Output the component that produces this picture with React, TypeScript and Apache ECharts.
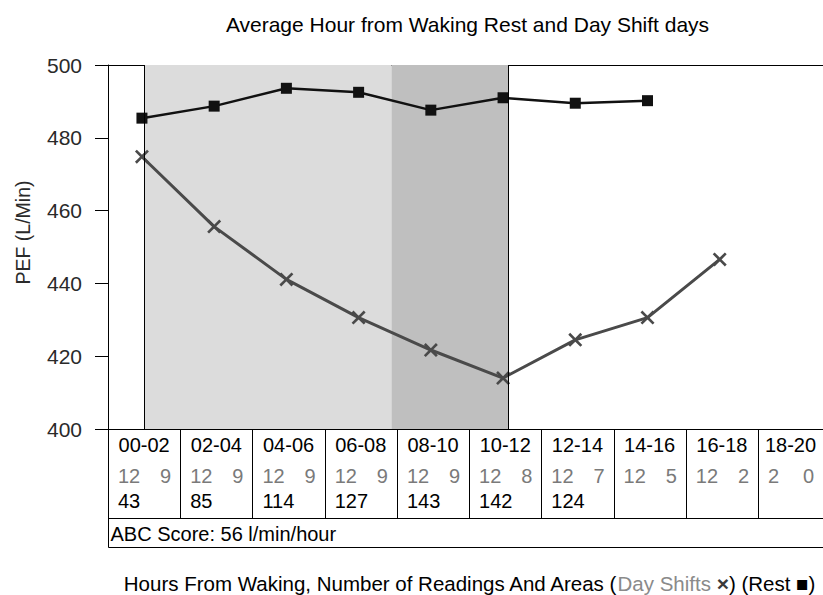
import React, { useEffect, useRef } from "react";
import * as echarts from "echarts";

const categories = ["00-02", "02-04", "04-06", "06-08", "08-10", "10-12", "12-14", "14-16", "16-18", "18-20"];
const dayShiftCounts = ["12", "12", "12", "12", "12", "12", "12", "12", "12", "2"];
const restCounts = ["9", "9", "9", "9", "9", "8", "7", "5", "2", "0"];
const areaValues = ["43", "85", "114", "127", "143", "142", "124", "", "", ""];
const dayShiftPEF = [474.8, 455.6, 441.1, 430.6, 421.7, 414.0, 424.5, 430.6, 446.6];
const restPEF = [485.4, 488.7, 493.6, 492.5, 487.6, 491.0, 489.5, 490.2];
const yMin = 400;
const yMax = 500;
const yInterval = 20;
const hoursPerColumn = 2;
const xMaxHours = 19.8;
const lightArea = [1, 7.85];
const darkArea = [7.85, 11.08];
const titleText = "Average Hour from Waking Rest and Day Shift days";
const yAxisName = "PEF (L/Min)";
const abcScore = "ABC Score: 56 l/min/hour";

const FONT = "'Liberation Sans', Arial, sans-serif";
const CROSS =
  "path://M0,1.6L1.6,0L6,4.4L10.4,0L12,1.6L7.6,6L12,10.4L10.4,12L6,7.6L1.6,12L0,10.4L4.4,6Z";

export default function App() {
  const ref = useRef<HTMLDivElement>(null);

  useEffect(() => {
    if (!ref.current) return;
    const chart = echarts.init(ref.current, undefined, { renderer: "svg" });
    const center = (i: number) => i * hoursPerColumn + hoursPerColumn / 2 - 0.06;

    chart.setOption({
      animation: false,
      textStyle: { fontFamily: FONT },
      grid: { left: 108, right: 0, top: 65, bottom: 166 },
      xAxis: {
        type: "value",
        min: 0,
        max: xMaxHours,
        interval: hoursPerColumn,
        axisLine: { show: true, lineStyle: { color: "#000", width: 1 } },
        axisTick: { show: false },
        axisLabel: { show: false },
        splitLine: { show: false },
      },
      yAxis: {
        type: "value",
        min: yMin,
        max: yMax,
        interval: yInterval,
        axisLine: { show: true, lineStyle: { color: "#000", width: 1 } },
        axisTick: { show: true, length: 13, lineStyle: { color: "#000" } },
        axisLabel: { fontSize: 21, color: "#2a2a2a", margin: 26, fontFamily: FONT },
        splitLine: { show: false },
      },
      series: [
        {
          name: "Rest",
          type: "line",
          z: 3,
          data: restPEF.map((v, i) => [center(i), v]),
          symbol: "rect",
          symbolSize: 11,
          lineStyle: { color: "#111", width: 2.5 },
          itemStyle: { color: "#111" },
          markArea: {
            silent: true,
            data: [
              [{ xAxis: lightArea[0], itemStyle: { color: "#dcdcdc" } }, { xAxis: lightArea[1] }],
              [{ xAxis: darkArea[0], itemStyle: { color: "#bfbfbf" } }, { xAxis: darkArea[1] }],
            ],
          },
          markLine: {
            silent: true,
            symbol: "none",
            label: { show: false },
            lineStyle: { color: "#000", width: 1, type: "solid" },
            data: [{ xAxis: lightArea[0] }, { xAxis: darkArea[1] }],
          },
        },
        {
          name: "Day Shifts",
          type: "line",
          z: 4,
          data: dayShiftPEF.map((v, i) => [center(i), v]),
          symbol: CROSS,
          symbolSize: 14,
          lineStyle: { color: "#4a4a4a", width: 3 },
          itemStyle: { color: "#4a4a4a" },
        },
      ],
    });

    const px = (h: number) => chart.convertToPixel({ xAxisIndex: 0 }, h) as number;
    const py = (v: number) => chart.convertToPixel({ yAxisIndex: 0 }, v) as number;
    const x0 = Math.round(px(0)) + 0.5;
    const xEnd = px(xMaxHours);
    const yTop = Math.round(py(yMax)) + 0.5;
    const yBottom = Math.round(py(yMin)) + 0.5;
    const rowLine = yBottom + 89;
    const bottomLine = yBottom + 118;
    const lineStyle = { stroke: "#000", lineWidth: 1 };

    const elements: any[] = [];
    elements.push({
      type: "text",
      x: 467.5,
      y: 24.5,
      style: { text: titleText, font: `21px ${FONT}`, fill: "#000", align: "center", verticalAlign: "middle" },
    });
    elements.push({
      type: "text",
      x: 22.5,
      y: 232.5,
      rotation: Math.PI / 2,
      style: { text: yAxisName, font: `19.5px ${FONT}`, fill: "#2a2a2a", align: "center", verticalAlign: "middle" },
    });
    elements.push({ type: "line", shape: { x1: x0, y1: yTop, x2: xEnd, y2: yTop }, style: lineStyle });
    elements.push({ type: "line", shape: { x1: x0, y1: yBottom, x2: x0, y2: bottomLine }, style: lineStyle });
    elements.push({ type: "line", shape: { x1: x0, y1: rowLine, x2: xEnd, y2: rowLine }, style: lineStyle });
    elements.push({ type: "line", shape: { x1: x0, y1: bottomLine, x2: xEnd, y2: bottomLine }, style: lineStyle });

    categories.forEach((cat, i) => {
      const left = px(i * hoursPerColumn);
      const right = Math.min(px((i + 1) * hoursPerColumn), xEnd);
      if (right < xEnd - 1) {
        const sx = Math.round(right) + 0.5;
        elements.push({ type: "line", shape: { x1: sx, y1: yBottom, x2: sx, y2: rowLine }, style: lineStyle });
      }
      elements.push({
        type: "text",
        x: (left + right) / 2,
        y: yBottom + 15.5,
        style: { text: cat, font: `20px ${FONT}`, fill: "#000", align: "center", verticalAlign: "middle" },
      });
      elements.push({
        type: "text",
        x: left + 10,
        y: yBottom + 46,
        style: { text: dayShiftCounts[i], font: `20px ${FONT}`, fill: "#7a7a7a", align: "left", verticalAlign: "middle" },
      });
      elements.push({
        type: "text",
        x: right - 9,
        y: yBottom + 46,
        style: { text: restCounts[i], font: `20px ${FONT}`, fill: "#7a7a7a", align: "right", verticalAlign: "middle" },
      });
      if (areaValues[i]) {
        elements.push({
          type: "text",
          x: left + 10,
          y: yBottom + 71,
          style: { text: areaValues[i], font: `20px ${FONT}`, fill: "#000", align: "left", verticalAlign: "middle" },
        });
      }
    });

    elements.push({
      type: "text",
      x: x0 + 2,
      y: yBottom + 104,
      style: { text: abcScore, font: `20px ${FONT}`, fill: "#000", align: "left", verticalAlign: "middle" },
    });

    elements.push({
      type: "text",
      x: 469,
      y: 583,
      style: {
        text: "{a|Hours From Waking, Number of Readings And Areas (}{g|Day Shifts }{x|×}{a|) (Rest }{s|■}{a|)}",
        align: "center",
        verticalAlign: "middle",
        rich: {
          a: { font: `20.5px ${FONT}`, fill: "#000" },
          g: { font: `20.5px ${FONT}`, fill: "#8a8a8a" },
          x: { font: `bold 21px ${FONT}`, fill: "#3a3a3a" },
          s: { font: `20.5px ${FONT}`, fill: "#000" },
        },
      },
    });

    chart.setOption({ graphic: { elements } });

    return () => chart.dispose();
  }, []);

  return (
    <div
      ref={ref}
      style={{ position: "absolute", left: 0, top: 0, width: 823, height: 595, background: "#fff" }}
    />
  );
}
